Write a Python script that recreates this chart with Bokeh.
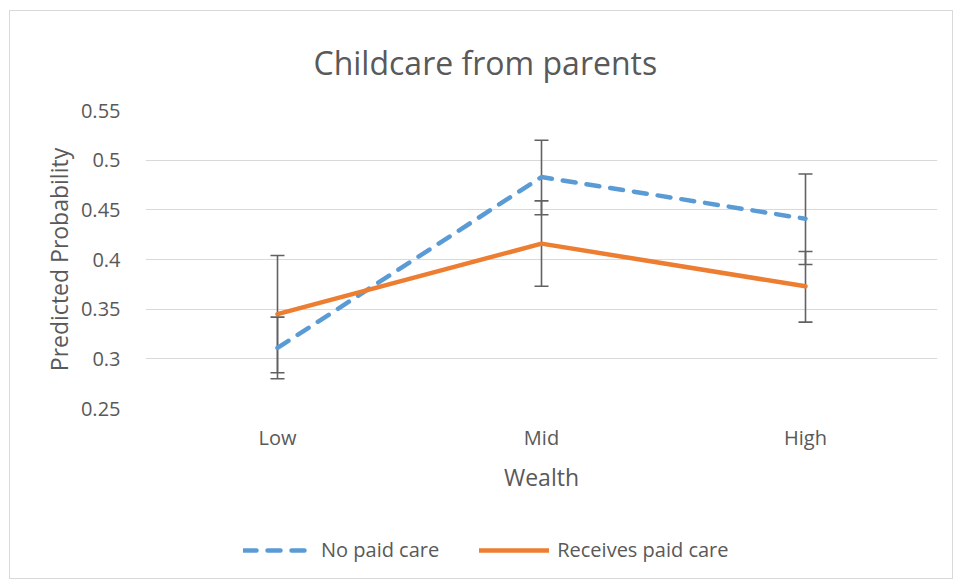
from bokeh.plotting import figure
from bokeh.layouts import column
from bokeh.models import (FactorRange, Range1d, FixedTicker, CustomJSTickFormatter,
                          ColumnDataSource, Whisker, TeeHead, Legend, LegendItem)
from bokeh.embed import file_html
from bokeh.resources import INLINE

# ---- data ----
categories = ["Low", "Mid", "High"]
no_paid = [0.311, 0.483, 0.441]
no_paid_lower = [0.280, 0.445, 0.395]
no_paid_upper = [0.342, 0.520, 0.486]
paid = [0.345, 0.416, 0.373]
paid_lower = [0.286, 0.373, 0.337]
paid_upper = [0.404, 0.459, 0.408]
y_ticks = [0.25, 0.3, 0.35, 0.4, 0.45, 0.5, 0.55]
series_names = ["No paid care", "Receives paid care"]

FONT = "Open Sans"
TXT = "#595959"
BLUE = "#5B9BD5"
ORANGE = "#ED7D31"

p = figure(width=942, height=510, output_backend="svg", toolbar_location=None,
           x_range=FactorRange(factors=categories, range_padding=0),
           y_range=Range1d(0.25, 0.55),
           min_border_left=135, min_border_right=15, min_border_top=99,
           min_border_bottom=113)
p.outline_line_color = None
p.background_fill_color = "white"
p.border_fill_color = "white"

p.title.text = "Childcare from parents"
p.title.align = "left"
p.title.offset = 168
p.title.text_font = FONT
p.title.text_font_size = "32px"
p.title.text_font_style = "normal"
p.title.text_color = TXT
p.title.vertical_align = "top"
p.title.standoff = 49

p.xgrid.grid_line_color = None
p.ygrid.grid_line_color = "#d9d9d9"
p.ygrid.grid_line_width = 1

p.yaxis.ticker = FixedTicker(ticks=y_ticks)
p.yaxis.formatter = CustomJSTickFormatter(code="return String(Math.round(tick*100)/100)")
for ax in (p.xaxis, p.yaxis):
    ax.axis_line_color = None
    ax.major_tick_line_color = None
    ax.minor_tick_line_color = None
    ax.major_tick_out = 0
    ax.major_tick_in = 0
    ax.major_label_text_font = FONT
    ax.major_label_text_font_size = "20px"
    ax.major_label_text_color = TXT
    ax.axis_label_text_font = FONT
    ax.axis_label_text_font_size = "23px"
    ax.axis_label_text_color = TXT
    ax.axis_label_text_font_style = "normal"

p.yaxis.major_label_standoff = 25
p.yaxis.axis_label = "Predicted Probability"
p.yaxis.axis_label_standoff = 3
p.xaxis.major_label_standoff = 15
p.xaxis.axis_label = "Wealth"
p.xaxis.axis_label_standoff = 7

line_kw = [dict(line_color=BLUE, line_width=4.5, line_dash="13 11", line_cap="round"),
           dict(line_color=ORANGE, line_width=4.5, line_cap="round")]

p.line(x=categories, y=no_paid, **line_kw[0])
p.line(x=categories, y=paid, **line_kw[1])

src = ColumnDataSource(dict(x=categories + categories,
                            lower=no_paid_lower + paid_lower,
                            upper=no_paid_upper + paid_upper))
w = Whisker(source=src, base="x", lower="lower", upper="upper",
            line_color="#616161", line_width=1.6,
            upper_head=TeeHead(size=14, line_color="#616161", line_width=1.6),
            lower_head=TeeHead(size=14, line_color="#616161", line_width=1.6))
p.add_layout(w)

# legend strip below the chart
lf = figure(width=942, height=57, output_backend="svg", toolbar_location=None,
            x_axis_location=None, y_axis_location=None,
            x_range=Range1d(0, 1), y_range=Range1d(0, 1),
            min_border=0, min_border_left=0, min_border_right=0,
            min_border_top=0, min_border_bottom=0)
lf.outline_line_color = None
lf.xgrid.visible = False
lf.ygrid.visible = False
items = []
for name, kw in zip(series_names, line_kw):
    r = lf.line(x=[-1, -2], y=[-1, -2], **kw)
    items.append(LegendItem(label=name, renderers=[r]))
lg = Legend(items=items, location=(98, 15), orientation="horizontal",
            glyph_width=70, glyph_height=22, label_standoff=8, spacing=40,
            padding=0, margin=0, border_line_color=None, background_fill_alpha=0,
            label_text_font=FONT, label_text_font_size="20px", label_text_color=TXT)
lf.add_layout(lg)

layout = column(p, lf, spacing=0,
                styles={"border": "1px solid #d9d9d9", "margin-left": "9px",
                        "margin-top": "10px"})

open("out.html", "w").write(file_html(layout, INLINE))
